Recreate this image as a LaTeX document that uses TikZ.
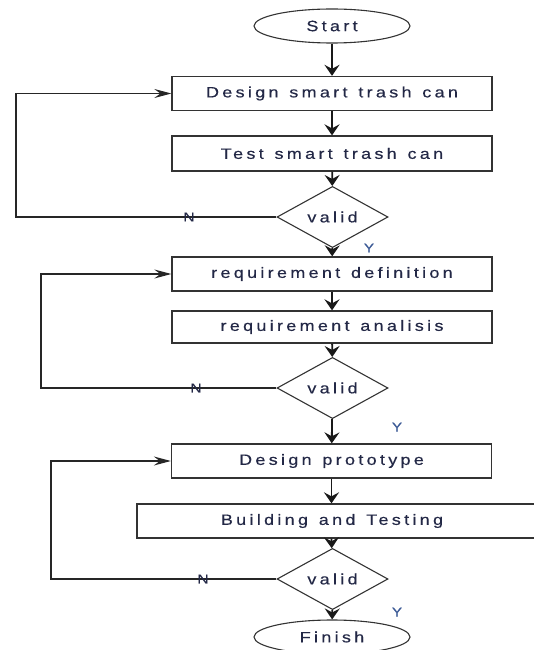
\documentclass[tikz,border=0pt]{standalone}
\usepackage{fontspec}
\setmainfont[LetterSpace=22,FakeStretch=1.2,FakeBold=0.4,WordSpace=1.3]{Liberation Sans}
\usetikzlibrary{shapes.geometric,arrows.meta}
\definecolor{txt}{RGB}{35,40,70}
\definecolor{ylab}{RGB}{60,90,150}
\tikzset{
  box/.style={draw=black!80,line width=1.3pt,rectangle,minimum height=34pt,minimum width=320pt,inner sep=0pt,font=\fontsize{15}{17}\selectfont,text=txt},
  oval/.style={draw=black!80,line width=1.1pt,ellipse,minimum width=156pt,minimum height=34pt,inner sep=0pt,font=\fontsize{15}{17}\selectfont,text=txt},
  dec/.style={draw=black!80,line width=1.1pt,diamond,minimum width=111pt,minimum height=44pt,inner sep=0pt,font=\fontsize{15}{17}\selectfont,text=txt},
  flow/.style={line width=1.8pt,black!90,-{Stealth[length=11pt,width=15pt,inset=4pt]}},
  back/.style={line width=1.2pt,black!85,-{Stealth[length=17pt,width=9pt,inset=6pt]}},
  lab/.style={font=\fontsize{13}{15}\selectfont,text=txt,inner sep=0pt},
  ylabel/.style={font=\fontsize{13}{15}\selectfont,text=ylab,inner sep=0pt}
}
\begin{document}
\begin{tikzpicture}[x=1pt,y=-1pt]
\useasboundingbox (0,0) rectangle (533,650);
\node[oval] (start) at (332,26) {Start};
\node[box] (d1) at (332,93.5) {Design smart trash can};
\node[box,minimum height=35pt] (t1) at (332,153.5) {Test smart trash can};
\node[dec] (v1) at (332.5,217) {valid};
\node[box] (r1) at (332,274) {requirement definition};
\node[box,minimum height=32pt] (r2) at (332,327) {requirement analisis};
\node[dec] (v2) at (332.5,388) {valid};
\node[box] (p1) at (331.5,461) {Design prototype};
\node[box,minimum width=408pt] (b1) at (341,521) {\hspace*{-18pt}Building and Testing};
\node[dec,minimum height=46pt] (v3) at (332.5,579) {valid};
\node[oval] (fin) at (332,637) {Finish};

\coordinate (c1) at (16,217);
\coordinate (c2) at (41,388);
\coordinate (c3) at (51,579);

\draw[flow] (start) -- (d1);
\draw[flow] (d1) -- (t1);
\draw[flow] (t1) -- (v1);
\draw[flow] (v1) -- (r1);
\draw[flow] (r1) -- (r2);
\draw[flow] (r2) -- (v2);
\draw[flow] (v2) -- (p1);
\draw[flow] (p1.south) -- (p1.south |- b1.north);
\draw[flow] (p1.south |- b1.south) -- (v3);
\draw[flow] (v3) -- (fin);

\draw[back] (v1.west) -- (c1) |- (d1.west);
\draw[back] (v2.west) -- (c2) |- (r1.west);
\draw[back] (v3.west) -- (c3) |- (p1.west);

\node[lab] (n1) at (189,217) {N};
\node[lab] (n2) at (196,388) {N};
\node[lab] (n3) at (203,579) {N};
\node[ylabel] (y1) at (369,248) {Y};
\node[ylabel] (y2) at (397,427) {Y};
\node[ylabel] (y3) at (397,612) {Y};
\end{tikzpicture}
\end{document}
